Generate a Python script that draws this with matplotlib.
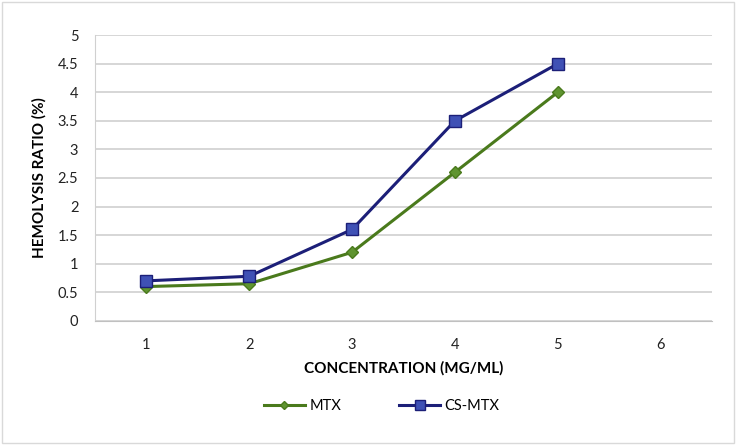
import matplotlib.pyplot as plt

plt.rcParams['font.family'] = ['Lato', 'DejaVu Sans']

concentration = [1, 2, 3, 4, 5]
xtick_labels = ['1', '2', '3', '4', '5', '6']
mtx = [0.6, 0.65, 1.2, 2.6, 4.0]
cs_mtx = [0.7, 0.78, 1.6, 3.5, 4.5]

fig = plt.figure(figsize=(7.37, 4.45), dpi=100)
ax = fig.add_axes([0.129, 0.279, 0.837, 0.642])

ax.plot(concentration, mtx, color='#4a7a1c', lw=2.2, marker='D', ms=6,
        mfc='#5f9430', mec='#4a7a1c', label='MTX', zorder=3)
ax.plot(concentration, cs_mtx, color='#1c1f78', lw=2.2, marker='s', ms=9,
        mfc='#3f51b5', mec='#1c1f78', label='CS-MTX', zorder=4)

ax.set_xlim(0.5, 6.5)
ax.set_ylim(0, 5)
ax.set_xticks(range(1, 7))
ax.set_xticklabels(xtick_labels)
ax.set_yticks([0, 0.5, 1, 1.5, 2, 2.5, 3, 3.5, 4, 4.5, 5])
ax.set_yticklabels(['0', '0.5', '1', '1.5', '2', '2.5', '3', '3.5', '4', '4.5', '5'])
ax.grid(axis='y', color='#d0d0d0', lw=1.2)
ax.set_axisbelow(True)
for s in ['top', 'right']:
    ax.spines[s].set_visible(False)
ax.spines['left'].set_color('#d0d0d0')
ax.spines['bottom'].set_color('#c0c0c0')
ax.tick_params(length=0, labelsize=10.5, colors='#222222', pad=12)

ax.set_xlabel('CONCENTRATION (MG/ML)', fontsize=11, fontweight='bold', labelpad=7)
ax.set_ylabel('HEMOLYSIS RATIO (%)', fontsize=11, fontweight='bold', labelpad=8)

fig.legend(loc='center', bbox_to_anchor=(0.518, 0.087), ncol=2, frameon=False,
           fontsize=10.5, handlelength=2.8, handletextpad=0.3, columnspacing=4,
           markerscale=0.75)

fig.patches.append(plt.Rectangle((0.003, 0.005), 0.993, 0.99, transform=fig.transFigure,
                                 fill=False, ec='#d9d9d9', lw=1))

fig.savefig('out.png', dpi=100)
